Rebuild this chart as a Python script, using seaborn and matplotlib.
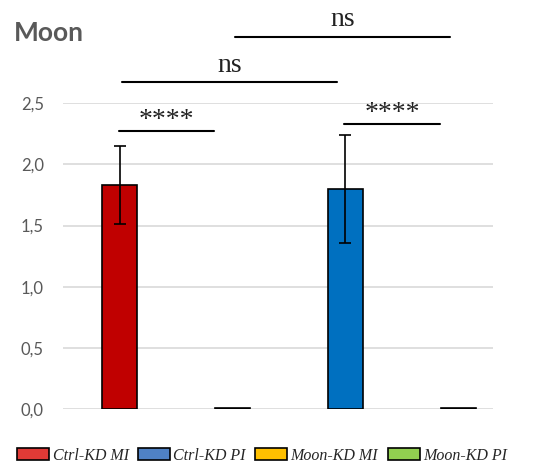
"""Moon knockdown bar chart with significance brackets."""
import pandas as pd
import numpy as np
import matplotlib
matplotlib.use('Agg')
import matplotlib.pyplot as plt
import matplotlib.patches as mpatches
from matplotlib.ticker import FuncFormatter
import seaborn as sns

# data
groups = ['Ctrl-KD MI', 'Moon-KD MI', 'Ctrl-KD PI', 'Moon-KD PI']
means = [1.83, 0.01, 1.80, 0.01]
errs = [0.32, 0.0, 0.44, 0.0]
bar_colors = ['#C00000', '#FFC000', '#0070C0', '#92D050']
legend_order = ['Ctrl-KD MI', 'Ctrl-KD PI', 'Moon-KD MI', 'Moon-KD PI']
legend_colors = ['#E03A36', '#4F81C4', '#FFC000', '#92D050']
# significance brackets: (group a, group b, label)
brackets = [('Ctrl-KD MI', 'Moon-KD MI', '****'),
            ('Ctrl-KD PI', 'Moon-KD PI', '****'),
            ('Ctrl-KD MI', 'Ctrl-KD PI', 'ns'),
            ('Moon-KD MI', 'Moon-KD PI', 'ns')]
bracket_y = [2.27, 2.33, 2.67, 3.04]

df = pd.DataFrame({'group': groups, 'mean': means, 'err': errs})

sns.set_style('white')
fig = plt.figure(figsize=(5.45, 4.71), dpi=100)
ax = fig.add_axes([0.116, 0.131, 0.789, 0.650])

sns.barplot(data=df, x='group', y='mean', hue='group', order=groups,
            palette=dict(zip(groups, bar_colors)), width=0.31, saturation=1,
            edgecolor='black', linewidth=1.2, legend=False, ax=ax)

pos = {g: i for i, g in enumerate(groups)}
xs = [pos[g] for g in df['group']]
has_err = df['err'] > 0
ax.errorbar(np.array(xs)[has_err], df['mean'][has_err], yerr=df['err'][has_err],
            fmt='none', ecolor='black', elinewidth=1.2, capsize=4.5, capthick=1.2)

ax.set_xlim(-0.5, 3.31)
ax.set_ylim(0, 2.5)
ax.set_yticks(np.arange(0, 2.51, 0.5))
ax.yaxis.set_major_formatter(FuncFormatter(lambda v, p: f'{v:.1f}'.replace('.', ',')))
ax.set_xticks([])
ax.set_xlabel('')
ax.set_ylabel('')
ax.grid(axis='y', color='#D9D9D9', linewidth=1.2)
ax.set_axisbelow(True)
for s in ax.spines.values():
    s.set_visible(False)
ax.tick_params(axis='y', length=0, labelsize=12, labelcolor='#595959', pad=14)
for t in ax.get_yticklabels():
    t.set_family(['Lato', 'DejaVu Sans'])

# brackets and labels (lines from bar to bar, slightly shifted like the original)
for (a, b, lab), y in zip(brackets, bracket_y):
    x0, x1 = pos[a], pos[b]
    if lab == 'ns':
        x0, x1 = x0 + 0.02, x1 - 0.07
        ty = y + 0.087
    else:
        x0, x1 = x0 - 0.01, x1 - 0.16
        ty = y + 0.035
    ax.plot([x0, x1], [y, y], color='black', linewidth=1.5, clip_on=False)
    ax.text((x0 + x1) / 2, ty, lab, ha='center', va='baseline', fontsize=20,
            family=['Liberation Serif', 'DejaVu Serif'], color='#222222', clip_on=False)

fig.text(0.026, 0.93, 'Moon', fontsize=19, fontweight='bold', color='#595959',
         family=['Lato', 'DejaVu Sans'], va='center', ha='left')

handles = [mpatches.Patch(facecolor=c, edgecolor='black', linewidth=1.2, label=l)
           for l, c in zip(legend_order, legend_colors)]
leg = fig.legend(handles=handles, loc='center', bbox_to_anchor=(0.481, 0.032), ncol=4,
                 frameon=False, handlelength=2.0, handleheight=0.8, handletextpad=0.2,
                 columnspacing=0.6, prop={'family': ['Liberation Serif', 'DejaVu Serif'],
                                          'style': 'italic', 'size': 11.5})

fig.savefig('out.png', dpi=100)
